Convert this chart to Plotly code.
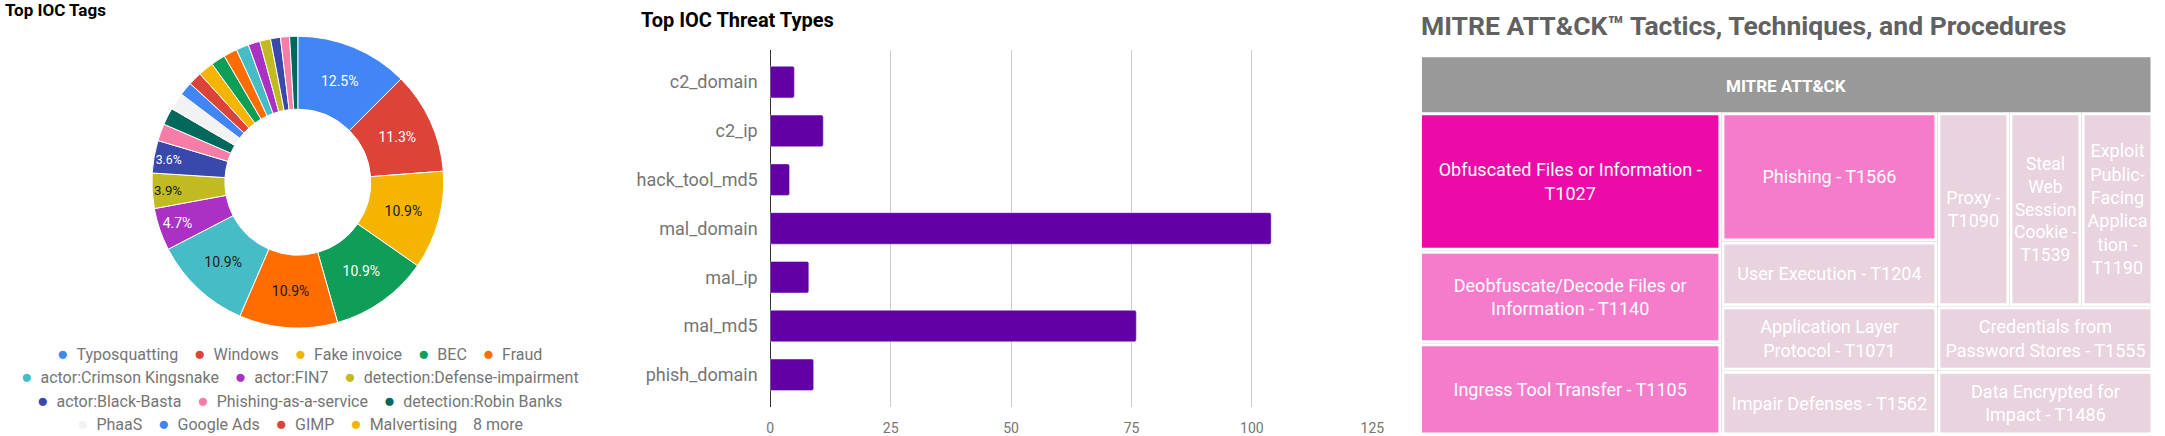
import plotly.graph_objects as go

W, H = 2165, 436

# ---------------- Top IOC Tags (donut) ----------------
tag_labels = [
    "Typosquatting", "Windows", "Fake invoice", "BEC", "Fraud",
    "actor:Crimson Kingsnake", "actor:FIN7", "detection:Defense-impairment",
    "actor:Black-Basta", "Phishing-as-a-service", "detection:Robin Banks",
    "PhaaS", "Google Ads", "GIMP", "Malvertising",
    "other tag 1", "other tag 2", "other tag 3", "other tag 4",
    "other tag 5", "other tag 6", "other tag 7", "other tag 8",
]
tag_share = [
    12.5, 11.3, 10.9, 10.9, 10.9,
    10.9, 4.7, 3.9,
    3.6, 1.9, 1.9,
    1.9, 1.5, 1.5, 1.7,
    1.6, 1.5, 1.4, 1.3,
    1.2, 1.1, 1.0, 0.9,
]
tag_palette = ["#4285F4", "#DB4437", "#F4B400", "#0F9D58", "#FF6D00", "#46BDC6",
               "#AB30C4", "#C2BA21", "#3949AB", "#F77DA9", "#00695C", "#F2F2F2"]
legend_rows = [5, 3, 3, 4]

# ---------------- Top IOC Threat Types (bars) ----------------
threat_types = ["c2_domain", "c2_ip", "hack_tool_md5", "mal_domain", "mal_ip", "mal_md5", "phish_domain"]
threat_counts = [5, 11, 4, 104, 8, 76, 9]
threat_ticks = [0, 25, 50, 75, 100, 125]

# ---------------- MITRE ATT&CK treemap ----------------
ttp_root = "MITRE ATT&CK"
ttp_names = [
    "Obfuscated Files or Information - T1027",
    "Deobfuscate/Decode Files or Information - T1140",
    "Ingress Tool Transfer - T1105",
    "Phishing - T1566",
    "User Execution - T1204",
    "Application Layer Protocol - T1071",
    "Impair Defenses - T1562",
    "Proxy - T1090",
    "Steal Web Session Cookie - T1539",
    "Exploit Public-Facing Application - T1190",
    "Credentials from Password Stores - T1555",
    "Data Encrypted for Impact - T1486",
]
ttp_counts = [3, 2, 2, 2, 1, 1, 1, 1, 1, 1, 1, 1]
ttp_text = [
    "Obfuscated Files or Information -<br>T1027",
    "Deobfuscate/Decode Files or<br>Information - T1140",
    "Ingress Tool Transfer - T1105",
    "Phishing - T1566",
    "User Execution - T1204",
    "Application Layer<br>Protocol - T1071",
    "Impair Defenses - T1562",
    "Proxy -<br>T1090",
    "Steal<br>Web<br>Session<br>Cookie -<br>T1539",
    "Exploit<br>Public-<br>Facing<br>Applica<br>tion -<br>T1190",
    "Credentials from<br>Password Stores - T1555",
    "Data Encrypted for<br>Impact - T1486",
]


def px_x(x):
    return x / W


def px_y(y):
    return 1 - y / H


FONT = "Roboto"
fig = go.Figure()

# ---- donut ----
n_tags = len(tag_labels)
tag_colors = [tag_palette[i % len(tag_palette)] for i in range(n_tags)]
dark_bg = {"#F4B400", "#FF6D00", "#46BDC6", "#C2BA21", "#F2F2F2"}
total = sum(tag_share)
tag_text = [f"{v / total * 100:.1f}%" if v / total >= 0.035 else "" for v in tag_share]
tag_text_colors = ["#1a1a1a" if c in dark_bg else "#ffffff" for c in tag_colors]

fig.add_trace(go.Pie(
    labels=tag_labels, values=tag_share, text=tag_text,
    textinfo="text", textposition="inside", insidetextorientation="horizontal",
    hole=0.5, sort=False, direction="clockwise", rotation=0,
    marker=dict(colors=tag_colors, line=dict(color="white", width=1)),
    textfont=dict(family=FONT, size=14, color=tag_text_colors),
    domain=dict(x=[px_x(149), px_x(443)], y=[px_y(330), px_y(36)]),
    showlegend=False, hoverinfo="label+percent",
))

# ---- bars ----
fig.add_trace(go.Bar(
    x=threat_counts, y=threat_types, orientation="h",
    marker=dict(color="#6200A6", cornerradius=2),
    xaxis="x", yaxis="y", showlegend=False,
))

# ---- treemap ----
tm_labels = [ttp_root] + ttp_names
tm_parents = [""] + [ttp_root] * len(ttp_names)
tm_values = [0] + ttp_counts
shade = {3: "#EC0BA8", 2: "#F47CCB", 1: "#E8D3DE"}
tm_colors = ["#999999"] + [shade[v] for v in ttp_counts]
tm_text = [ttp_root] + ttp_text
# root label is drawn centred in the header by an annotation below
tm_text_colors = ["rgba(0,0,0,0)"] + ["#ffffff"] * len(ttp_names)

fig.add_trace(go.Treemap(
    labels=tm_labels, parents=tm_parents, values=tm_values,
    branchvalues="remainder", sort=True,
    text=tm_text, textinfo="text", textposition="middle center",
    textfont=dict(family=FONT, size=18, color=tm_text_colors),
    marker=dict(colors=tm_colors, line=dict(color="white", width=3),
                pad=dict(t=58, l=0, r=0, b=0)),
    tiling=dict(packing="squarify", squarifyratio=2),
    pathbar=dict(visible=False),
    domain=dict(x=[px_x(1427), px_x(2164)], y=[0, px_y(56)]),
    hoverinfo="label+value",
))

# ---- annotations: titles ----
annotations = [
    dict(text="<b>Top IOC Tags</b>", x=0, y=px_y(10), xanchor="left", yanchor="middle",
         xshift=-1, font=dict(family=FONT, size=17, color="#000000")),
    dict(text="<b>Top IOC Threat Types</b>", x=px_x(641), y=px_y(20), xanchor="left", yanchor="middle",
         xshift=-1, font=dict(family=FONT, size=20, color="#000000")),
    dict(text="<b>MITRE ATT&CK\u2122 Tactics, Techniques, and Procedures</b>", x=px_x(1427), y=px_y(26),
         xanchor="left", yanchor="middle", xshift=-1, font=dict(family=FONT, size=26.5, color="#616161")),
    # treemap root header label
    dict(text="<b>" + ttp_root + "</b>", x=px_x((1427 + 2164) / 2), y=px_y(86),
         xanchor="center", yanchor="middle", font=dict(family=FONT, size=17, color="#ffffff")),
]

# ---- custom legend for donut ----
row_y = [355, 378, 402, 425]
sep = "\u00a0" * 4
idx = 0
shown = sum(legend_rows)
for r, count in enumerate(legend_rows):
    parts = []
    for _ in range(count):
        parts.append(f"<span style='color:{tag_colors[idx]};font-size:19px'>\u25CF</span>\u00a0\u00a0{tag_labels[idx]}")
        idx += 1
    if r == len(legend_rows) - 1 and n_tags > shown:
        parts.append(f"{n_tags - shown} more")
    annotations.append(dict(
        text=sep.join(parts), x=px_x(298), y=px_y(row_y[r]), xanchor="center", yanchor="middle",
        font=dict(family=FONT, size=16, color="#757575"),
    ))

for a in annotations:
    a.update(xref="paper", yref="paper", showarrow=False)

fig.update_layout(
    width=W, height=H, margin=dict(l=0, r=0, t=0, b=0),
    paper_bgcolor="white", plot_bgcolor="white",
    font=dict(family=FONT, color="#757575"),
    bargap=0.353,
    xaxis=dict(domain=[px_x(772), px_x(1378.5)], range=[0, 125], tickvals=threat_ticks,
               showgrid=True, gridcolor="#CCCCCC", gridwidth=1,
               zeroline=True, zerolinecolor="#333333", zerolinewidth=1, showline=False,
               ticks="outside", ticklen=8, tickcolor="rgba(0,0,0,0)",
               tickfont=dict(family=FONT, size=14, color="#757575"), fixedrange=True),
    yaxis=dict(domain=[px_y(409), px_y(50)], type="category", categoryorder="array",
               categoryarray=threat_types, range=[len(threat_types) - 1 + 0.663, -0.663],
               showgrid=False, zeroline=False, showline=False,
               ticks="outside", ticklen=8, tickcolor="rgba(0,0,0,0)",
               tickfont=dict(family=FONT, size=18, color="#757575"), fixedrange=True),
    annotations=annotations,
)

fig.write_html("out.html", config={"displayModeBar": False},
               post_script="document.body.style.margin='0';document.body.style.overflow='hidden';")
